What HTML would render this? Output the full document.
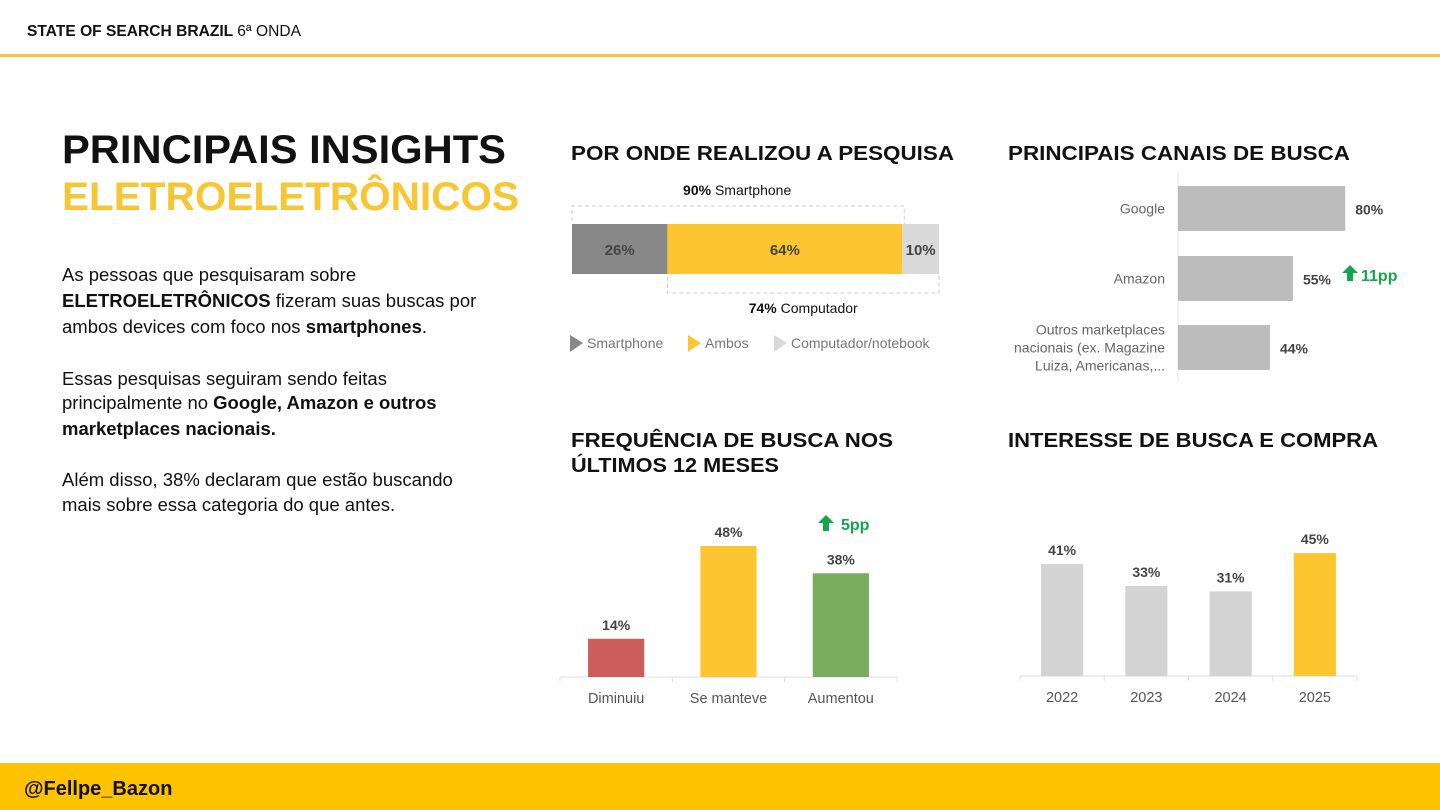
<!DOCTYPE html>
<html><head><meta charset="utf-8">
<style>
html,body{margin:0;padding:0;background:#fff;width:1440px;height:810px;overflow:hidden}
svg{display:block;font-family:"Liberation Sans",sans-serif}
</style></head>
<body>
<svg id="s" width="1440" height="810" viewBox="0 0 1440 810" xmlns="http://www.w3.org/2000/svg">
  <text x="27" y="36" font-size="16" font-weight="bold" fill="#111" textLength="274" lengthAdjust="spacingAndGlyphs">STATE OF SEARCH BRAZIL <tspan font-weight="normal">6ª ONDA</tspan></text>
  <rect x="0" y="54" width="1440" height="3" fill="#f7c634"/>
  <text x="62" y="163" font-size="40" font-weight="bold" fill="#111" textLength="444" lengthAdjust="spacingAndGlyphs">PRINCIPAIS INSIGHTS</text>
  <text x="62" y="210" font-size="40" font-weight="bold" fill="#f7c634" textLength="457" lengthAdjust="spacingAndGlyphs">ELETROELETRÔNICOS</text>
  <g font-size="18.5" fill="#111">
    <text x="62" y="281">As pessoas que pesquisaram sobre</text>
    <text x="62" y="307"><tspan font-weight="bold">ELETROELETRÔNICOS</tspan> fizeram suas buscas por</text>
    <text x="62" y="333">ambos devices com foco nos <tspan font-weight="bold">smartphones</tspan>.</text>
    <text x="62" y="385">Essas pesquisas seguiram sendo feitas</text>
    <text x="62" y="409">principalmente no <tspan font-weight="bold">Google, Amazon e outros</tspan></text>
    <text x="62" y="435" font-weight="bold">marketplaces nacionais.</text>
    <text x="62" y="486">Além disso, 38% declaram que estão buscando</text>
    <text x="62" y="511">mais sobre essa categoria do que antes.</text>
  </g>
  <g font-size="20" font-weight="bold" fill="#111" lengthAdjust="spacingAndGlyphs">
    <text x="571" y="160" textLength="383" lengthAdjust="spacingAndGlyphs">POR ONDE REALIZOU A PESQUISA</text>
    <text x="1008" y="160" textLength="342" lengthAdjust="spacingAndGlyphs">PRINCIPAIS CANAIS DE BUSCA</text>
    <text x="571" y="447" textLength="322" lengthAdjust="spacingAndGlyphs">FREQUÊNCIA DE BUSCA NOS</text>
    <text x="571" y="472" textLength="208" lengthAdjust="spacingAndGlyphs">ÚLTIMOS 12 MESES</text>
    <text x="1008" y="447" textLength="370" lengthAdjust="spacingAndGlyphs">INTERESSE DE BUSCA E COMPRA</text>
  </g>
  <g id="g1"></g><g id="g2"></g><g id="g3"></g><g id="g4"></g>
  <rect x="0" y="763" width="1440" height="47" fill="#fdc300"/>
  <text x="24" y="795" font-size="20" font-weight="bold" fill="#111">@Fellpe_Bazon</text>
</svg>
<script>
// Device stacked bar
const devCats=["Smartphone","Ambos","Computador/notebook"];
const devVals=[26,64,10];
const devColors=["#888888","#fdc52f","#d9d9d9"];
// Channels
const chCats=[["Google"],["Amazon"],["Outros marketplaces","nacionais (ex. Magazine","Luiza, Americanas,..."]];
const chVals=[80,55,44];
// Frequency
const frCats=["Diminuiu","Se manteve","Aumentou"];
const frVals=[14,48,38];
const frColors=["#cd5c5c","#fdc52f","#7aae5f"];
// Interest
const inCats=["2022","2023","2024","2025"];
const inVals=[41,33,31,45];
const inColors=["#d3d3d3","#d3d3d3","#d3d3d3","#fdc52f"];

const NS="http://www.w3.org/2000/svg";
function mk(p,t,a,txt){const e=document.createElementNS(NS,t);for(const k in a)e.setAttribute(k,a[k]);if(txt!==undefined)e.textContent=txt;p.appendChild(e);return e;}
function upArrow(p,x,y,name){const e=mk(p,"path",{d:`M${x} ${y} l-8 8 h5 v8 h6 v-8 h5 z`,fill:"#14a64a"});

}

// Chart 1
(function(){const g=document.getElementById("g1");const x0=572,w=367,y=224,h=50;
const sx=v=>v/100*w;let cx=x0;
devVals.forEach((v,i)=>{const r=mk(g,"rect",{x:cx,y:y,width:sx(v),height:h,fill:devColors[i]});


const t=mk(g,"text",{x:cx+sx(v)/2,y:y+31,"text-anchor":"middle","font-size":15,"font-weight":"bold",fill:"#444"},v+"%");


cx+=sx(v);});
const smart=devVals[0]+devVals[1], comp=devVals[1]+devVals[2];
const b1=mk(g,"path",{d:`M${x0} ${y-3} V${y-18} H${x0+sx(smart)+2} V${y}`,fill:"none",stroke:"#ccc","stroke-dasharray":"4 3"});


const b2=mk(g,"path",{d:`M${x0+sx(devVals[0])} ${y+h+3} V${y+h+19} H${x0+w} V${y+h}`,fill:"none",stroke:"#ccc","stroke-dasharray":"4 3"});


const l1=mk(g,"text",{x:x0+sx(smart)/2,y:195,"text-anchor":"middle","font-size":14,fill:"#111"});
l1.innerHTML=`<tspan font-weight="bold">${smart}%</tspan> Smartphone`;


const l2=mk(g,"text",{x:x0+sx(devVals[0])+sx(comp)/2,y:313,"text-anchor":"middle","font-size":14,fill:"#111"});
l2.innerHTML=`<tspan font-weight="bold">${comp}%</tspan> Computador`;


const lx=[570,688,774];
devCats.forEach((c,i)=>{const m=mk(g,"path",{d:`M${lx[i]} 335 l13 8 l-13 9 z`,fill:devColors[i]});


const t=mk(g,"text",{x:lx[i]+17,y:348,"font-size":14,fill:"#777"},c);

});
})();

// Chart 2
(function(){const g=document.getElementById("g2");const x0=1178,sx=v=>v*2.09;const ys=[186,256,325],bh=45;
const ax=mk(g,"line",{x1:x0,y1:172,x2:x0,y2:382,stroke:"#e5e5e5"});


chVals.forEach((v,i)=>{const y=ys[i];
const r=mk(g,"rect",{x:x0,y:y,width:sx(v),height:bh,fill:"#bcbcbc"});


const t=mk(g,"text",{x:x0+sx(v)+10,y:y+bh/2+6,"font-size":14,"font-weight":"bold",fill:"#444"},v+"%");


const lines=chCats[i];lines.forEach((ln,j)=>{const c=mk(g,"text",{x:1165,y:y+bh/2+5+(j-(lines.length-1)/2)*18,"text-anchor":"end","font-size":14,fill:"#666"},ln);

});
});
upArrow(g,1350,265,'amazon-growth-arrow');
const d=mk(g,"text",{x:1361,y:281,"font-size":16,"font-weight":"bold",fill:"#14a64a"},"11pp");


})();

function vbars(gid,cats,vals,colors,x0,x1,base,name){const g=document.getElementById(gid);const n=cats.length,step=(x1-x0)/n,bw=step*0.5,sy=v=>v*2.73;
const ax=mk(g,"line",{x1:x0,y1:base,x2:x1,y2:base,stroke:"#ddd"});


for(let i=0;i<=n;i++){const tk=mk(g,"line",{x1:x0+i*step,y1:base,x2:x0+i*step,y2:base+5,stroke:"#ddd"});

}
vals.forEach((v,i)=>{const cx=x0+step*(i+0.5);
const r=mk(g,"rect",{x:cx-bw/2,y:base-sy(v),width:bw,height:sy(v),fill:colors[i]});


const t=mk(g,"text",{x:cx,y:base-sy(v)-9,"text-anchor":"middle","font-size":14,"font-weight":"bold",fill:"#444"},v+"%");


const c=mk(g,"text",{x:cx,y:base+26,"text-anchor":"middle","font-size":14.5,fill:"#555"},cats[i]);

});
return g;}
const g3=vbars("g3",frCats,frVals,frColors,560,897,677,'frequency');
upArrow(g3,826,515,'frequency-growth-arrow');
const f5=mk(g3,"text",{x:841,y:530,"font-size":16,"font-weight":"bold",fill:"#14a64a"},"5pp");


vbars("g4",inCats,inVals,inColors,1020,1357,676,'interest');
</script>
</body></html>
